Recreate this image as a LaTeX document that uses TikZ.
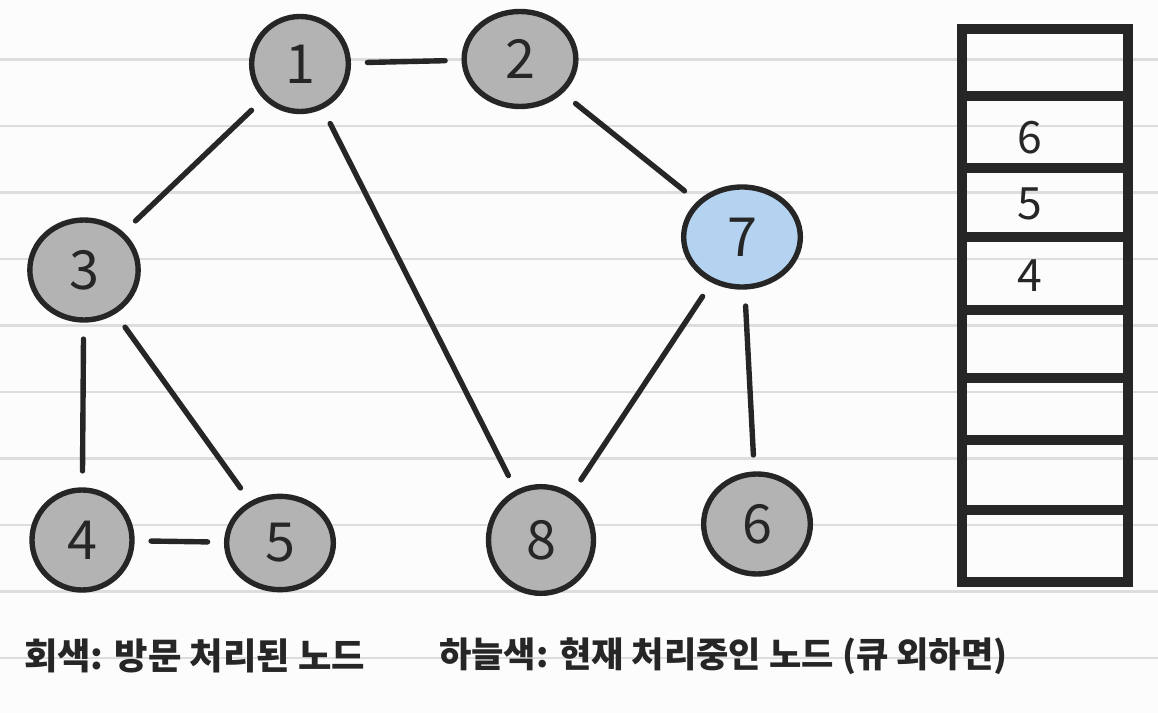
\documentclass[tikz,border=0pt]{standalone}
\usepackage{fontspec}
\setmainfont{Noto Sans CJK KR}
\usetikzlibrary{shapes.geometric}
\definecolor{ink}{HTML}{262626}
\definecolor{visited}{HTML}{B3B3B3}
\definecolor{current}{HTML}{B3D3F0}
\definecolor{rule}{HTML}{DDDDDD}
\definecolor{paper}{HTML}{FCFCFC}
\tikzset{
  gnode/.style={ellipse, draw=ink, line width=4.6pt, fill=visited, inner sep=0pt,
    text=ink, font=\fontsize{46}{46}\selectfont},
  curnode/.style={gnode, fill=current},
  edge/.style={draw=ink, line width=4.6pt, line cap=round, shorten <=14pt, shorten >=14pt},
  stackline/.style={draw=ink, line width=8pt},
  stacklabel/.style={text=ink, font=\fontsize{38}{38}\selectfont},
  legend/.style={text=ink, anchor=west, font=\fontsize{31}{31}\selectfont\bfseries}
}
\begin{document}
\begin{tikzpicture}[x=0.03cm, y=-0.03cm]
\fill[paper] (0,0) rectangle (1158,713);
\useasboundingbox (0,0) rectangle (1158,713);
\foreach \k in {0,...,9} {
  \draw[rule, line width=2pt] (0,{59.5+66.5*\k}) -- (1158,{59.5+66.5*\k});
}
% nodes
\node[gnode, minimum width=2.9cm, minimum height=2.85cm] (n1) at (300,64) {1};
\node[gnode, minimum width=3.35cm, minimum height=2.85cm] (n2) at (520,59) {2};
\node[gnode, minimum width=3.25cm, minimum height=3.0cm] (n3) at (84,270) {3};
\node[curnode, minimum width=3.5cm, minimum height=3.0cm] (n7) at (742,237) {7};
\node[gnode, minimum width=3.0cm, minimum height=3.0cm] (n4) at (82,540) {4};
\node[gnode, minimum width=3.2cm, minimum height=2.8cm] (n5) at (280,543) {5};
\node[gnode, minimum width=3.15cm, minimum height=3.2cm] (n8) at (541,540) {8};
\node[gnode, minimum width=3.2cm, minimum height=3.0cm] (n6) at (757,524) {6};
% edges
\draw[edge] (n1) -- (n2);
\draw[edge] (n1) -- (n3);
\draw[edge] (n1) -- (n8);
\draw[edge] (n2) -- (n7);
\draw[edge] (n3) -- (n4);
\draw[edge] (n3) -- (n5);
\draw[edge] (n7) -- (n8);
\draw[edge] (n7) -- (n6);
\draw[edge] (n4) -- (n5);
% stack
\draw[stackline] (962,29) rectangle (1128,582);
\foreach \y in {96,168,237,310,378,440,510} {
  \draw[stackline] (962,\y) -- (1128,\y);
}
\node[stacklabel] (s6) at (1030,138) {6};
\node[stacklabel] (s5) at (1030,204) {5};
\node[stacklabel] (s4) at (1030,276) {4};
% legend
\node[legend] (l1) at (20,656) {회색: 방문 처리된 노드};
\node[legend, font=\fontsize{30}{30}\selectfont\bfseries] (l2) at (435,656) {하늘색: 현재 처리중인 노드 (큐 외하면)};
\end{tikzpicture}
\end{document}
